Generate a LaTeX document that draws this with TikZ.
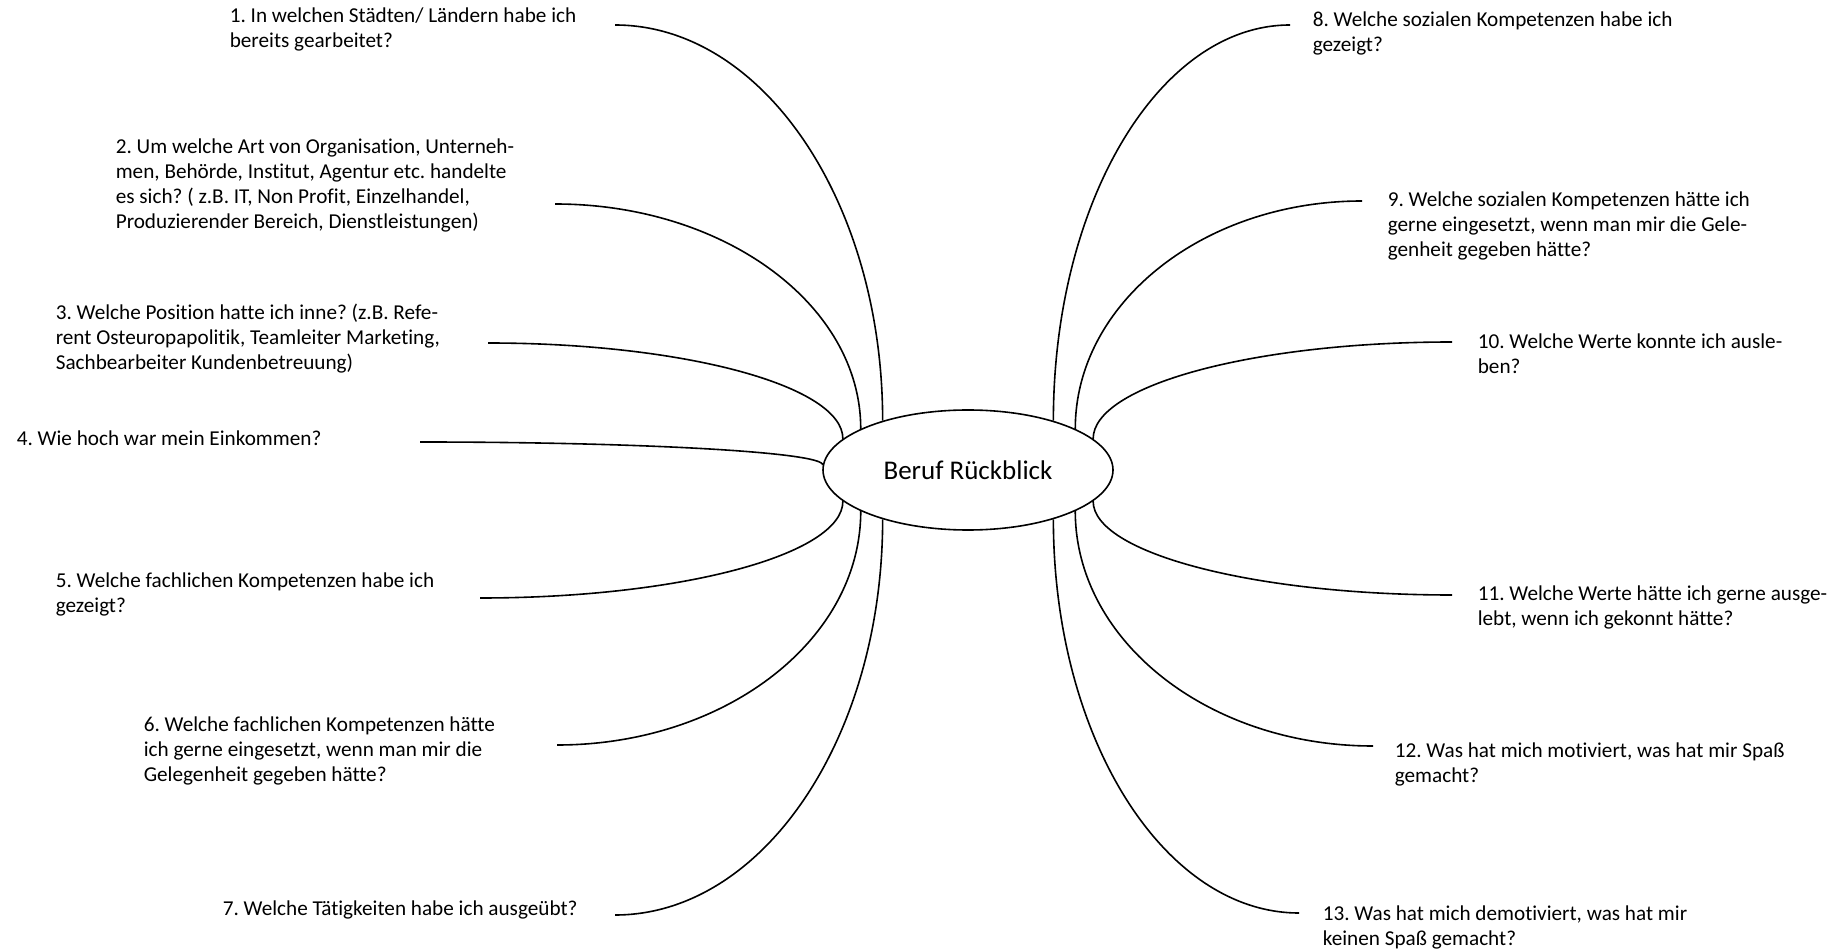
\documentclass[tikz,border=0pt]{standalone}
\usepackage{fontspec}
\setmainfont{Carlito}[Ligatures=NoCommon]
\usetikzlibrary{calc,shapes.geometric}

\begin{document}
\frenchspacing
\begin{tikzpicture}[x=0.5pt,y=-0.5pt,line width=0.8pt,
    frage/.style={anchor=base west,inner sep=0pt,align=left,font=\fontsize{10.6pt}{12.5pt}\selectfont},
    spoke/.style={to path={.. controls ($(\tikztostart)!0.5523!(\tikztotarget|-\tikztostart)$) and ($(\tikztotarget)!0.5523!(\tikztotarget|-\tikztostart)$) .. (\tikztotarget)}}]

    \useasboundingbox (0,0) rectangle (1840,951);

    \node[ellipse,draw,minimum width=145pt,minimum height=60pt,inner sep=0pt,font=\fontsize{13.5pt}{15pt}\selectfont] (hub) at (968,470) {Beruf Rückblick};

    % base anchor sits on the last line
    \node[frage] (1) at (229,48) {1. In welchen Städten/ Ländern habe ich\\bereits gearbeitet?};
    \node[frage] (2) at (115,229) {2. Um welche Art von Organisation, Unterneh-\\men, Behörde, Institut, Agentur etc. handelte\\es sich? ( z.B. IT, Non Profit, Einzelhandel,\\Produzierender Bereich, Dienstleistungen)};
    \node[frage] (3) at (55,370) {3. Welche Position hatte ich inne? (z.B. Refe-\\rent Osteuropapolitik, Teamleiter Marketing,\\Sachbearbeiter Kundenbetreuung)};
    \node[frage] (4) at (16,446) {4. Wie hoch war mein Einkommen?};
    \node[frage] (5) at (55,612) {5. Welche fachlichen Kompetenzen habe ich\\gezeigt?};
    \node[frage] (6) at (143,781) {6. Welche fachlichen Kompetenzen hätte\\ich gerne eingesetzt, wenn man mir die\\Gelegenheit gegeben hätte?};
    \node[frage] (7) at (222,915) {7. Welche Tätigkeiten habe ich ausgeübt?};
    \node[frage] (8) at (1312,52) {8. Welche sozialen Kompetenzen habe ich\\gezeigt?};
    \node[frage] (9) at (1387,257) {9. Welche sozialen Kompetenzen hätte ich\\gerne eingesetzt, wenn man mir die Gele-\\genheit gegeben hätte?};
    \node[frage] (10) at (1477,374) {10. Welche Werte konnte ich ausle-\\ben?};
    \node[frage] (11) at (1477,625) {11. Welche Werte hätte ich gerne ausge-\\lebt, wenn ich gekonnt hätte?};
    \node[frage] (12) at (1394,782) {12. Was hat mich motiviert, was hat mir Spaß\\gemacht?};
    \node[frage] (13) at (1322,945) {13. Was hat mich demotiviert, was hat mir\\keinen Spaß gemacht?};

    \coordinate (a1) at (615,25);
    \coordinate (a2) at (555,204);
    \coordinate (a3) at (488,343);
    \coordinate (a4) at (420,442);
    \coordinate (a5) at (480,598);
    \coordinate (a6) at (557,745);
    \coordinate (a7) at (615,915);
    \coordinate (a8) at (1290,25);
    \coordinate (a9) at (1362,201);
    \coordinate (a10) at (1452,342);
    \coordinate (a11) at (1452,595);
    \coordinate (a12) at (1373,746);
    \coordinate (a13) at (1299,913);

    \draw (a1) to[spoke] (hub.150);
    \draw (a2) to[spoke] (hub.159);
    \draw (a3) to[spoke] (hub.166);
    \draw (a4) to[spoke] (hub.178);
    \draw (a5) to[spoke] (hub.194);
    \draw (a6) to[spoke] (hub.201);
    \draw (a7) to[spoke] (hub.210);
    \draw (a8) to[spoke] (hub.30);
    \draw (a9) to[spoke] (hub.21);
    \draw (a10) to[spoke] (hub.14);
    \draw (a11) to[spoke] (hub.346);
    \draw (a12) to[spoke] (hub.339);
    \draw (a13) to[spoke] (hub.330);
\end{tikzpicture}
\end{document}
